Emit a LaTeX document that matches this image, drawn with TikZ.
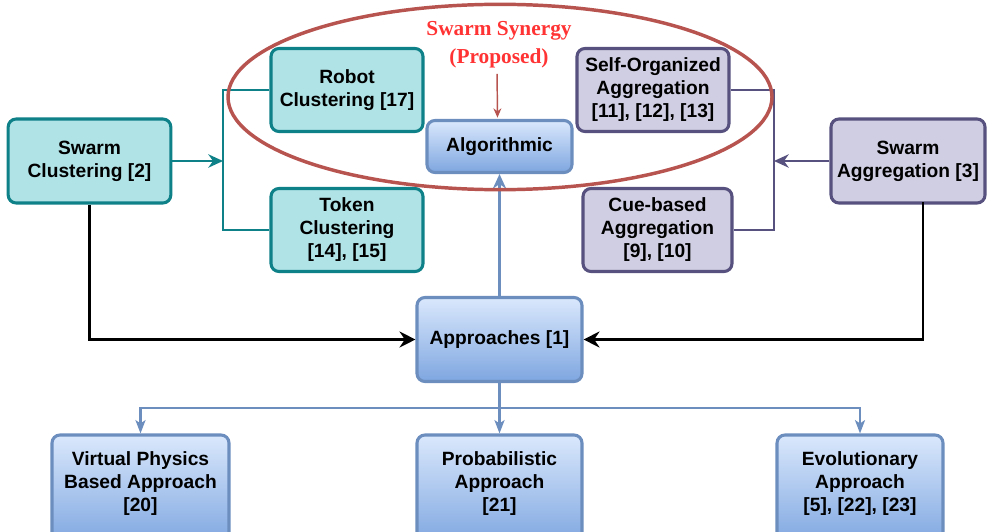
\documentclass[tikz,border=0pt]{standalone}
\usepackage{fontspec}
\setmainfont{Liberation Sans}
\newfontfamily\titlefont{Liberation Serif}
\usetikzlibrary{arrows.meta}
\definecolor{tealD}{HTML}{0E8088}
\definecolor{tealF}{HTML}{B0E3E6}
\definecolor{purD}{HTML}{56517E}
\definecolor{purF}{HTML}{D0CEE2}
\definecolor{bluD}{HTML}{6C8EBF}
\definecolor{bluT}{HTML}{DAE8FC}
\definecolor{bluB}{HTML}{7EA6E0}
\definecolor{redD}{HTML}{B85450}
\definecolor{redT}{HTML}{FF3333}
\begin{document}
\begin{tikzpicture}[x=0.75pt,y=-0.75pt,
  font=\bfseries\fontsize{14.4}{17.25}\selectfont,
  box/.style={rounded corners=6pt, line width=2.3pt, align=center, inner sep=2pt},
  tbox/.style={box, draw=tealD, fill=tealF},
  pbox/.style={box, draw=purD, fill=purF},
  bbox/.style={box, draw=bluD, top color=bluT, bottom color=bluB},
  txt/.style={align=center, inner sep=0pt},
  tline/.style={draw=tealD, line width=1.6pt},
  pline/.style={draw=purD, line width=1.6pt},
  kline/.style={draw=black, line width=1.6pt},
  bline/.style={draw=bluD, line width=1.8pt},
  tip/.style={-{Stealth[length=11pt,width=10pt,inset=3.5pt]}},
  stip/.style={-{Stealth[length=10pt,width=7.5pt,inset=2.5pt]}},
  ttl/.style={font=\titlefont\bfseries\fontsize{16}{21}\selectfont, text=redT, align=center, inner sep=0pt}
]
\useasboundingbox (0,0) rectangle (987,531);
\clip (0,0) rectangle (987,531);

% nodes
\node[tbox, minimum width=122pt, minimum height=63pt] (sc) at (89.5,161) {Swarm\\Clustering [2]};
\node[tbox, minimum width=114pt, minimum height=62.25pt] (rc) at (347,90) {Robot\\Clustering [17]};
\node[tbox, minimum width=114pt, minimum height=62.25pt] (tc) at (347,230) {Token\\Clustering\\{[14], [15]}};
\node[bbox, minimum width=108.75pt, minimum height=39pt] (alg) at (499.5,146.5) {Algorithmic};
\node[pbox, minimum width=114pt, minimum height=62.25pt] (so) at (653,90) {Self-Organized\\Aggregation\\{[11], [12], [13]}};
\node[pbox, minimum width=111.75pt, minimum height=62.25pt] (cb) at (657.5,230) {Cue-based\\Aggregation\\{[9], [10]}};
\node[pbox, minimum width=115.5pt, minimum height=63pt] (sa) at (908,161) {Swarm\\Aggregation [3]};
\node[bbox, minimum width=123.75pt, minimum height=63pt] (ap) at (499.5,339.5) {Approaches [1]};
\node[bbox, minimum width=132.75pt, minimum height=82.5pt] (vp) at (140.5,490) {};
\node[txt] (vpt) at (140.5,484) {Virtual Physics\\Based Approach\\{[20]}};
\node[bbox, minimum width=123.75pt, minimum height=82.5pt] (pr) at (499.5,490) {};
\node[txt] (prt) at (499.5,484) {Probabilistic\\Approach\\{[21]}};
\node[bbox, minimum width=124.5pt, minimum height=82.5pt] (ev) at (860,490) {};
\node[txt] (evt) at (860,484) {Evolutionary\\Approach\\{[5], [22], [23]}};
\node[ttl] (title) at (499,45) {Swarm Synergy\\(Proposed)};

% junctions
\coordinate (tj) at (223,161);
\coordinate (pj) at (774,161);
\coordinate (bj) at (499.5,408);
\coordinate (sab) at (923,202);

% connectors
\draw[tline, tip] (sc.east) -- (tj);
\draw[tline] (rc.west) -| (tj) |- (tc.west);
\draw[pline, tip] (sa.west) -- (pj);
\draw[pline] (so.east) -| (pj) |- (cb.east);
\draw[kline, -{Stealth[length=12pt,width=12pt,inset=4pt]}] (sc.south) |- (ap.west);
\draw[kline, -{Stealth[length=12pt,width=12pt,inset=4pt]}] (sab) |- (ap.east);
\draw[bline, tip] (ap.north) -- (alg.south);
\draw[bline] (ap.south) -- (bj);
\draw[bline, stip] (bj) -| (vp.north);
\draw[bline, stip] (bj) -- (pr.north);
\draw[bline, stip] (bj) -| (ev.north);
\draw[draw=redD, line width=1.1pt, -{Stealth[length=7pt,width=6pt]}, shorten <=4pt, shorten >=1pt] ([xshift=-1.5pt]title.south) -- ([xshift=-1.5pt]alg.north);

% ellipse
\draw[draw=redD, line width=2.6pt] (500,97) ellipse [x radius=204pt, y radius=69.5pt];
\end{tikzpicture}
\end{document}
